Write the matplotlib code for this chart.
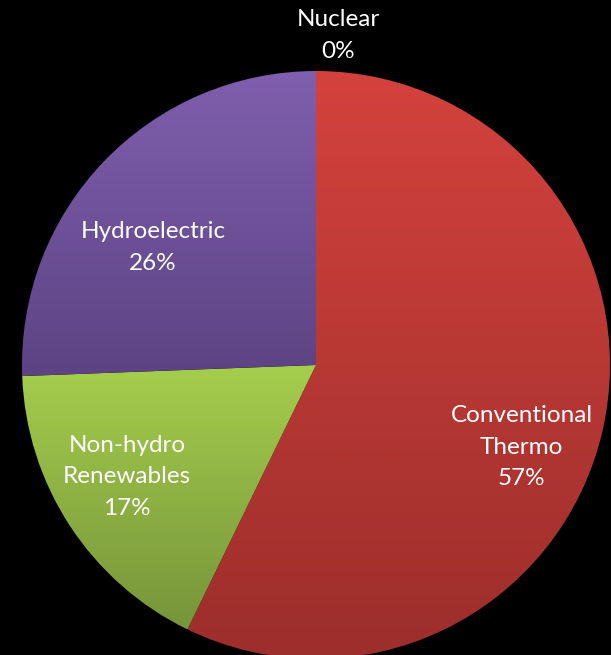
import numpy as np
import matplotlib
matplotlib.use("Agg")
import matplotlib.pyplot as plt
from matplotlib.colors import LinearSegmentedColormap

# Electricity generation mix (share of total, %)
sources = ["Nuclear", "Conventional\nThermo", "Non-hydro\nRenewables", "Hydroelectric"]
shares = [0.0, 57.2, 17.2, 25.6]

# Top / bottom shades for each slice's vertical gradient
top_colors = ["#8a8a8a", "#d4423d", "#a6ce4d", "#7f5fae"]
bottom_colors = ["#6a6a6a", "#9c2e2b", "#76943a", "#5d4383"]

# Label anchor points (in units of pie radius)
label_pos = [(0.075, 1.12), (0.70, -0.28), (-0.643, -0.38), (-0.554, 0.40)]

plt.rcParams["font.family"] = ["Lato", "DejaVu Sans"]

W, H = 611, 655
fig = plt.figure(figsize=(W / 100, H / 100), dpi=100, facecolor="black")
ax = fig.add_axes([0, 0, 1, 1])
ax.set_facecolor("black")

cx_px, cy_px, r_px = 316, 365, 294
ax.set_xlim(-cx_px / r_px, (W - cx_px) / r_px)
ax.set_ylim(-(H - cy_px) / r_px, cy_px / r_px)
ax.set_aspect("auto")
ax.axis("off")

wedges, _ = ax.pie(shares, startangle=90, counterclock=False, radius=1,
                   center=(0, 0), wedgeprops=dict(linewidth=0))

grad = np.linspace(0, 1, 256).reshape(-1, 1)
for w, c_top, c_bot, val in zip(wedges, top_colors, bottom_colors, shares):
    w.set_facecolor("none")
    if val <= 0:
        continue
    bb = w.get_path().get_extents(w.get_patch_transform())
    cmap = LinearSegmentedColormap.from_list("g", [c_top, c_bot])
    im = ax.imshow(grad, cmap=cmap, aspect="auto", origin="upper",
                   extent=(bb.x0, bb.x1, bb.y0, bb.y1), interpolation="bilinear",
                   zorder=w.get_zorder())
    im.set_clip_path(w)

ax.set_xlim(-cx_px / r_px, (W - cx_px) / r_px)
ax.set_ylim(-(H - cy_px) / r_px, cy_px / r_px)

for name, val, (lx, ly) in zip(sources, shares, label_pos):
    ax.text(lx, ly, f"{name}\n{val:.0f}%", color="white", fontsize=17.5,
            ha="center", va="center", linespacing=1.62, zorder=5)

fig.savefig("out.png", dpi=100, facecolor="black")
